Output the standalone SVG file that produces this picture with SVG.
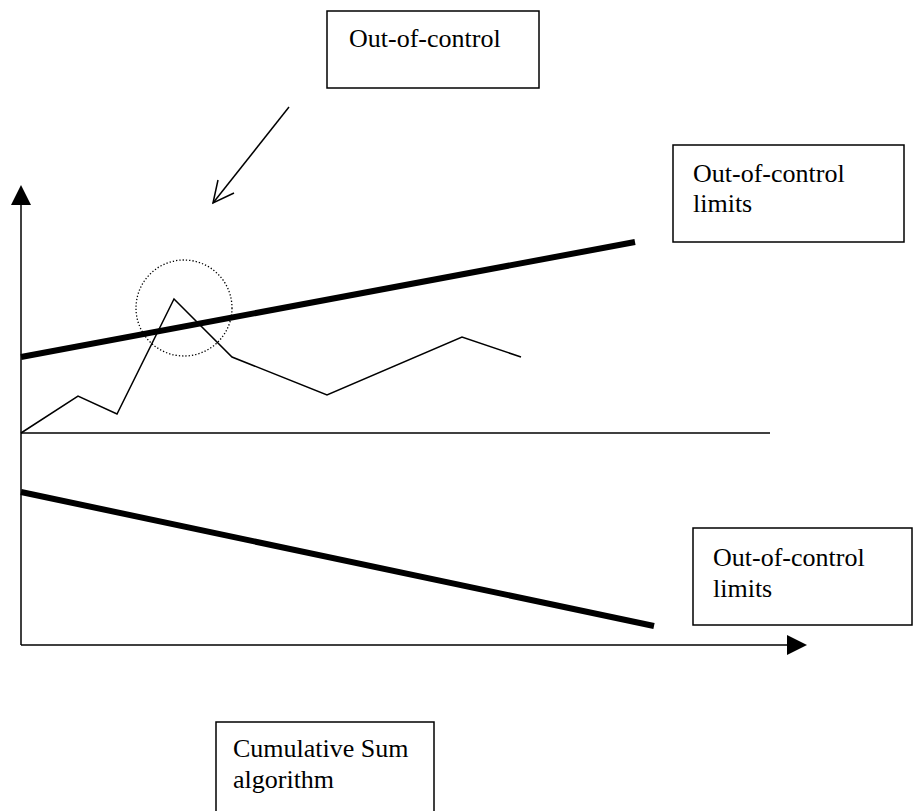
<svg xmlns="http://www.w3.org/2000/svg" width="914" height="811" viewBox="0 0 914 811">
<style>
.box{fill:#fff;stroke:#000;stroke-width:1.5}
.lbl{font-family:"Liberation Serif","Times New Roman",serif;font-size:26px;fill:#000}
.thin{fill:none;stroke:#000;stroke-width:1.5}
.thick{fill:none;stroke:#000;stroke-width:6}
</style>
<rect width="914" height="811" fill="#fff"/>
<g id="connectors">
<line class="thin" x1="21" y1="645" x2="21" y2="203"/>
<polygon points="21,185 11,205 31,205" fill="#000"/>
<line class="thin" x1="21" y1="645" x2="789" y2="645"/>
<polygon points="807,645 787,635 787,655" fill="#000"/>
<line class="thin" x1="21" y1="433" x2="770" y2="433"/>
<line class="thick" x1="21" y1="357" x2="635" y2="242"/>
<line class="thick" x1="21" y1="492" x2="654" y2="626"/>
<polyline class="thin" points="21,433 78,396 117,414 174,299 232,357 327,395 462,337 521,357"/>
<circle cx="184" cy="308" r="48" fill="none" stroke="#000" stroke-width="1.3" stroke-dasharray="1.3 2"/>
<line class="thin" x1="289" y1="107" x2="213" y2="203"/>
<polyline class="thin" points="218,180 213,203 234,193"/>
</g>
<g id="node-out-of-control">
<rect class="box" x="327" y="11" width="212" height="77"/>
<text class="lbl" x="349" y="47">Out-of-control</text>
</g>
<g id="node-upper-limits">
<rect class="box" x="673" y="145" width="231" height="97"/>
<text class="lbl" x="693" y="182">Out-of-control</text>
<text class="lbl" x="693" y="212">limits</text>
</g>
<g id="node-lower-limits">
<rect class="box" x="693" y="528" width="219" height="97"/>
<text class="lbl" x="713" y="566">Out-of-control</text>
<text class="lbl" x="713" y="597">limits</text>
</g>
<g id="node-cusum">
<rect class="box" x="216" y="722" width="218" height="92"/>
<text class="lbl" x="233" y="757">Cumulative Sum</text>
<text class="lbl" x="233" y="788">algorithm</text>
</g>
</svg>
